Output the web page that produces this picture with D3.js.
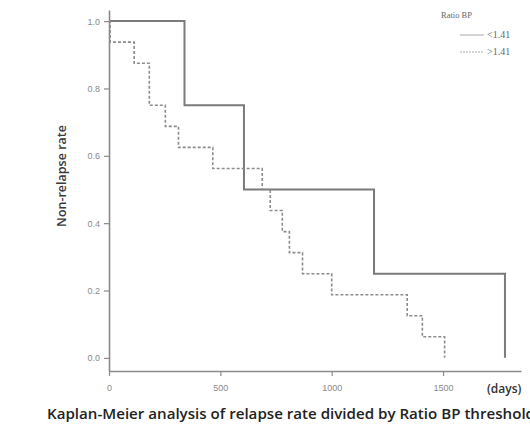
<!DOCTYPE html>
<html>
<head>
<meta charset="utf-8">
<script src="https://cdn.jsdelivr.net/npm/d3@7"></script>
<style>
body { margin: 0; background: #fff; }
svg { display: block; }
</style>
</head>
<body>
<div id="chart"></div>
<script>
// Kaplan-Meier steps (days, survival)
var lowDays  = [0, 339, 606, 1190, 1778];
var lowSurv  = [1.0, 0.75, 0.5, 0.25, 0.0];
var highDays = [0, 5, 113, 181, 253, 312, 466, 688, 724, 778, 810, 869, 1000, 1339, 1407, 1507];
var highSurv = [1.0, 0.9375, 0.875, 0.75, 0.6875, 0.625, 0.5625, 0.5, 0.4375, 0.375, 0.3125, 0.25, 0.1875, 0.125, 0.0625, 0.0];
var xTicks = [0, 500, 1000, 1500];
var yTicks = [0, 0.2, 0.4, 0.6, 0.8, 1.0];
var legendLabels = ["<1.41", ">1.41"];

var width = 530, height = 430;

var svg = d3.select("#chart")
  .append("svg")
  .attr("width", width)
  .attr("height", height);

var x = d3.scaleLinear()
  .domain([0, 1850])
  .range([109, 521]);

var y = d3.scaleLinear()
  .domain([-0.039, 1.033])
  .range([371, 10]);

// axes
var xAxis = svg.append("g")
  .attr("transform", "translate(0,371)")
  .call(d3.axisBottom(x).tickValues(xTicks).tickSize(5).tickSizeOuter(0).tickFormat(d3.format("d")));

var yAxis = svg.append("g")
  .attr("transform", "translate(109,0)")
  .call(d3.axisLeft(y).tickValues(yTicks).tickSize(5).tickSizeOuter(0).tickFormat(d3.format(".1f")));

[xAxis, yAxis].forEach(function(a) {
  a.select(".domain").attr("stroke", "#8a8a8a").attr("stroke-width", 1.6);
  a.selectAll(".tick line").attr("stroke", "#8a8a8a").attr("stroke-width", 1.2);
  a.selectAll("text")
    .attr("fill", "#8a8a8a")
    .style("font-family", "'Liberation Sans', Arial, sans-serif")
    .style("font-size", "9px");
});
xAxis.selectAll("text").attr("dy", "1.3em");
yAxis.selectAll("text").attr("x", -9);

// step lines
var line = d3.line()
  .x(function(d) { return x(d[0]); })
  .y(function(d) { return y(d[1]); })
  .curve(d3.curveStepAfter);

function stepData(days, surv) {
  return days.map(function(d, i) { return [d, surv[i]]; });
}

svg.append("path")
  .datum(stepData(lowDays, lowSurv))
  .attr("d", line)
  .attr("fill", "none")
  .attr("stroke", "#7a7a7a")
  .attr("stroke-width", 2);

svg.append("path")
  .datum(stepData(highDays, highSurv))
  .attr("d", line)
  .attr("fill", "none")
  .attr("stroke", "#8c8c8c")
  .attr("stroke-width", 1.6)
  .attr("stroke-dasharray", "3,2");

// legend
var legend = svg.append("g")
  .style("font-family", "'Liberation Serif', serif")
  .attr("fill", "#666");

legend.append("text").attr("x", 441).attr("y", 18)
  .style("font-size", "8.5px").text("Ratio BP");

legendLabels.forEach(function(lab, i) {
  var ly = 35 + i * 17;
  legend.append("line")
    .attr("x1", 460).attr("x2", 484)
    .attr("y1", ly).attr("y2", ly)
    .attr("stroke", "#aaa")
    .attr("stroke-width", 1)
    .attr("stroke-dasharray", i === 0 ? null : "2,1");
  legend.append("text").attr("x", 487).attr("y", ly + 3)
    .style("font-size", "10px").text(lab);
});

// y label
svg.append("g")
  .attr("transform", "translate(66,176)")
  .append("text")
  .attr("text-anchor", "middle")
  .attr("transform", "rotate(-90)")
  .style("font-family", "'Open Sans', sans-serif")
  .style("font-size", "12.5px")
  .style("font-weight", "600")
  .attr("fill", "#3a3a3a")
  .text("Non-relapse rate");

// x unit
svg.append("text")
  .attr("x", 487).attr("y", 393)
  .style("font-family", "'Open Sans', sans-serif")
  .style("font-size", "12px")
  .style("font-weight", "600")
  .attr("fill", "#333")
  .text("(days)");

// caption
svg.append("text")
  .attr("x", 47).attr("y", 419)
  .attr("textLength", 488)
  .attr("lengthAdjust", "spacingAndGlyphs")
  .style("font-family", "'Open Sans', sans-serif")
  .style("font-size", "13.5px")
  .style("font-weight", "600")
  .attr("fill", "#222")
  .text("Kaplan-Meier analysis of relapse rate divided by Ratio BP threshold");
</script>
</body>
</html>
